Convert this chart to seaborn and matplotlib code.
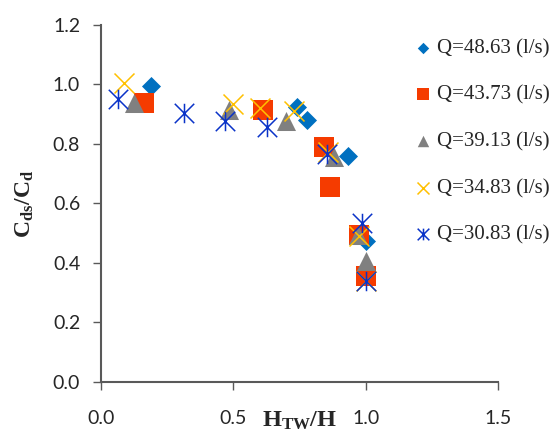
import numpy as np
import pandas as pd
import matplotlib
matplotlib.use('Agg')
import matplotlib.pyplot as plt
from matplotlib.path import Path
import seaborn as sns

# data
labels = ['Q=48.63 (l/s)', 'Q=43.73 (l/s)', 'Q=39.13 (l/s)', 'Q=34.83 (l/s)', 'Q=30.83 (l/s)']

x_4863 = [0.19, 0.74, 0.78, 0.935, 1.0]
y_4863 = [0.995, 0.925, 0.88, 0.76, 0.475]

x_4373 = [0.164, 0.613, 0.842, 0.865, 0.975, 1.0]
y_4373 = [0.939, 0.914, 0.789, 0.656, 0.493, 0.355]

x_3913 = [0.123, 0.484, 0.70, 0.88, 0.971, 1.0]
y_3913 = [0.939, 0.913, 0.877, 0.757, 0.493, 0.405]

x_3483 = [0.088, 0.499, 0.60, 0.73, 0.858, 0.975, 1.0]
y_3483 = [1.004, 0.933, 0.922, 0.911, 0.774, 0.491, 0.34]

x_3083 = [0.063, 0.313, 0.468, 0.628, 0.854, 0.986, 1.0]
y_3083 = [0.952, 0.903, 0.878, 0.856, 0.768, 0.533, 0.34]

xs = [x_4863, x_4373, x_3913, x_3483, x_3083]
ys = [y_4863, y_4373, y_3913, y_3483, y_3083]

df = pd.concat([pd.DataFrame({'htw': x, 'cds': y, 'Q': lab}) for x, y, lab in zip(xs, ys, labels)],
               ignore_index=True)

# excel style star: x with a vertical bar
star = Path([(-1, -1), (1, 1), (-1, 1), (1, -1), (0, -1), (0, 1)],
            [Path.MOVETO, Path.LINETO, Path.MOVETO, Path.LINETO, Path.MOVETO, Path.LINETO])

styles = {
    labels[0]: dict(marker='D', color='#0070C0', s=94, linewidth=0),
    labels[1]: dict(marker='s', color='#F53B00', s=188, linewidth=0),
    labels[2]: dict(marker='^', color='#808080', s=188, linewidth=0),
    labels[3]: dict(marker='x', color='#FFC000', s=207, linewidth=1.1),
    labels[4]: dict(marker=star, color='#0A33C8', s=196, linewidth=1.1, edgecolor='#0A33C8'),
}

sns.set_style('ticks')
plt.rcParams['mathtext.fontset'] = 'custom'
plt.rcParams['mathtext.rm'] = 'Liberation Serif'
plt.rcParams['mathtext.bf'] = 'Liberation Serif:bold'
plt.rcParams['mathtext.it'] = 'Liberation Serif:italic'

fig = plt.figure(figsize=(5.59, 4.37), dpi=100)
ax = fig.add_axes([0.1807, 0.1259, 0.7102, 0.8169])

for lab in labels:
    sub = df[df['Q'] == lab]
    sns.scatterplot(data=sub, x='htw', y='cds', ax=ax, label=lab, **styles[lab])

ax.set_xlim(0, 1.5)
ax.set_ylim(0, 1.2)
ax.set_xticks([0, 0.5, 1.0, 1.5])
ax.set_yticks(np.arange(0, 1.21, 0.2))
ax.set_xticklabels(['0.0', '0.5', '1.0', '1.5'])
ax.set_yticklabels(['%.1f' % v for v in np.arange(0, 1.21, 0.2)])
for t in ax.get_xticklabels() + ax.get_yticklabels():
    t.set_fontfamily('Lato')
    t.set_fontsize(14)
    t.set_color('#262626')

for side in ['top', 'right']:
    ax.spines[side].set_visible(False)
for side in ['left', 'bottom']:
    ax.spines[side].set_color('#595959')
    ax.spines[side].set_linewidth(1.5)
ax.tick_params(axis='both', direction='out', length=6, width=1, color='#595959')
ax.tick_params(axis='x', pad=14)
ax.tick_params(axis='y', pad=9)

ax.set_xlabel(r'$\mathbf{H_{TW}/H}$', fontsize=17.5)
ax.set_ylabel(r'$\mathbf{C_{ds}/C_{d}}$', fontsize=17)
ax.xaxis.set_label_coords(0.5, -0.072)
ax.yaxis.set_label_coords(-0.164, 0.5)

ax.legend(loc='upper left', bbox_to_anchor=(0.724, 1 - 28 / 437), bbox_transform=fig.transFigure,
          frameon=False, borderpad=0, handlelength=0.8, handletextpad=0.25, labelspacing=1.3,
          markerscale=0.6, prop={'family': 'Liberation Serif', 'size': 15})

fig.savefig('out.png', dpi=100)
